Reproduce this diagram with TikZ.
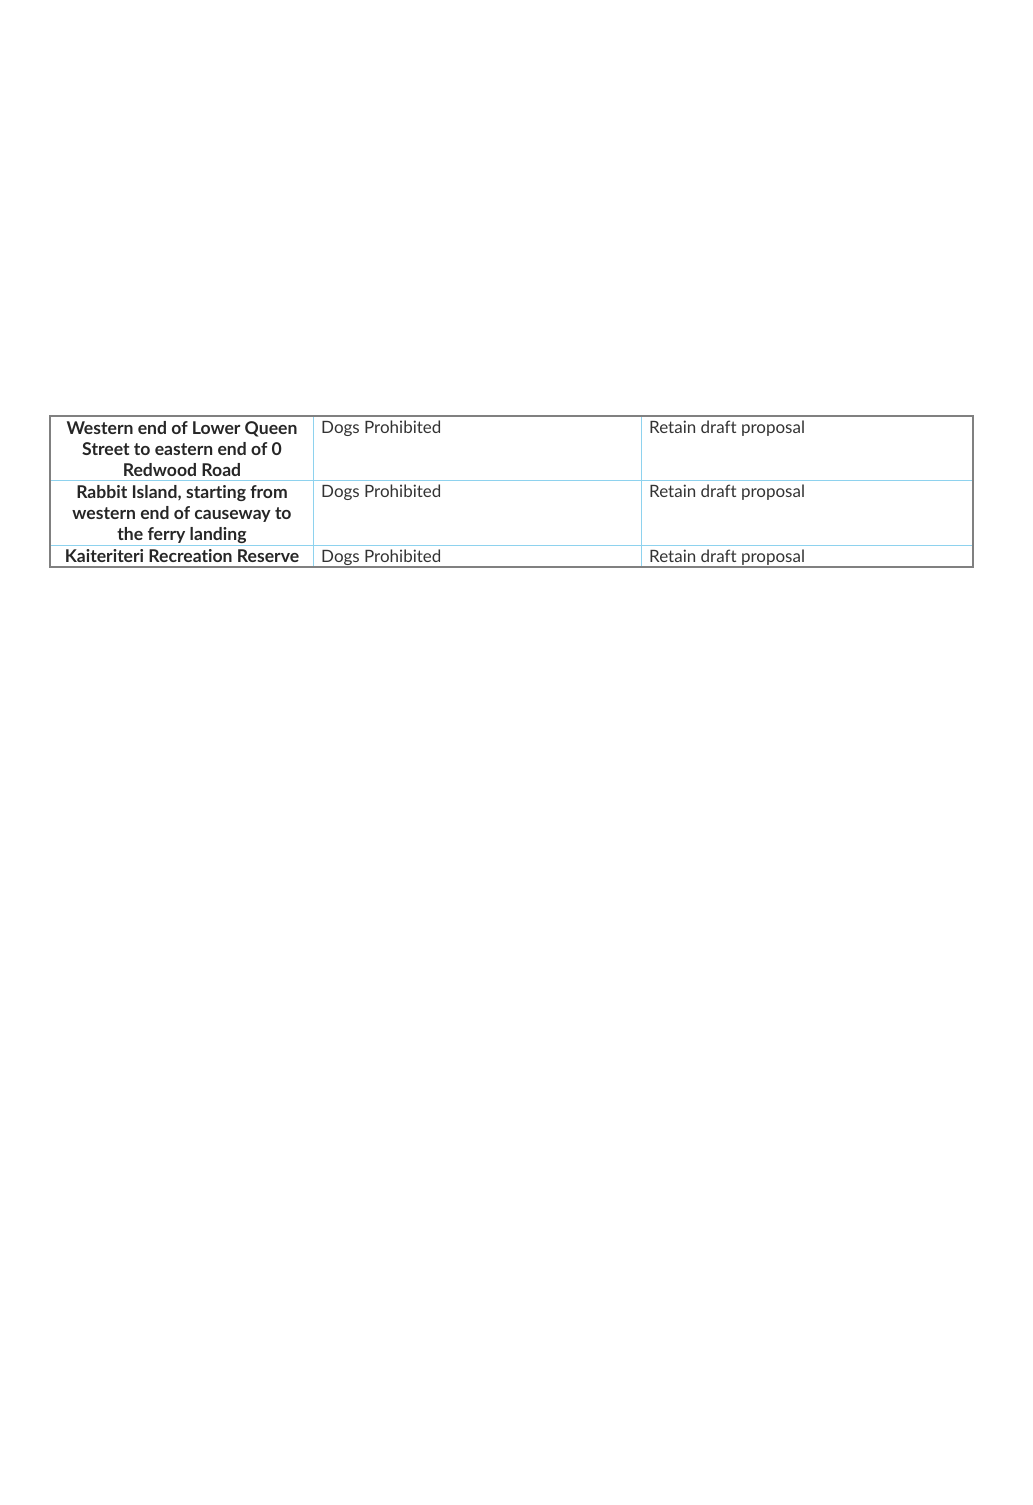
\documentclass[tikz,border=0pt]{standalone}
\usepackage{fontspec}
\setmainfont[Ligatures={NoCommon}]{Lato}
\usetikzlibrary{positioning}
\definecolor{gridblue}{HTML}{8ED2EE}
\definecolor{framegrey}{HTML}{808080}
\tikzset{place/.style={align=center,font=\fontsize{17.6}{21}\selectfont\bfseries,text=black!85,inner sep=0pt,anchor=north},
	 entry/.style={align=left,font=\fontsize{17}{21}\selectfont,text=black!80,inner sep=0pt,anchor=north west},
	 rule/.style={gridblue,line width=1pt},
	 frame/.style={framegrey,line width=1.6pt}
	 }
\begin{document}
\begin{tikzpicture}[x=1pt,y=-1pt]
      \useasboundingbox[fill=white] (0,0) rectangle (1033,1505);
      % grid lines
      \draw[rule] (50,480) -- (973,480);
      \draw[rule] (50,545) -- (973,545);
      \draw[rule] (313,416) -- (313,567);
      \draw[rule] (641,416) -- (641,567);
      \draw[frame] (50,416) rectangle (973,567);
      % first column
      \node[place] (queen) at (182,421) {Western end of Lower Queen\\Street to eastern end of 0\\Redwood Road};
      \node[place] (rabbit) at (182,485) {Rabbit Island, starting from\\western end of causeway to\\the ferry landing};
      \node[place] (kaiteriteri) at (182,549.5) {Kaiteriteri Recreation Reserve};
      % second column
      \node[entry] (dogsA) at (321,421) {Dogs Prohibited};
      \node[entry] (dogsB) at (321,485) {Dogs Prohibited};
      \node[entry] (dogsC) at (321,549.5) {Dogs Prohibited};
      % third column
      \node[entry] (retainA) at (649,421) {Retain draft proposal};
      \node[entry] (retainB) at (649,485) {Retain draft proposal};
      \node[entry] (retainC) at (649,549.5) {Retain draft proposal};
  \end{tikzpicture}
\end{document}
